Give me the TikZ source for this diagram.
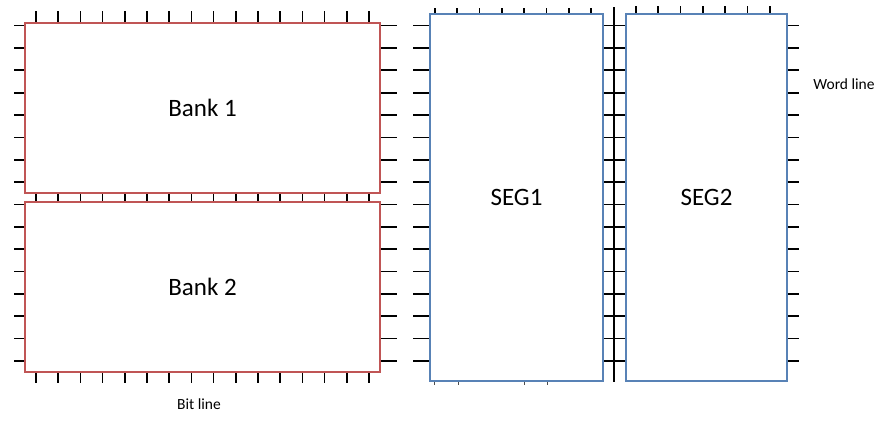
\documentclass[tikz,border=0pt]{standalone}
\usepackage{fontspec}
\setmainfont{Carlito}
\usepackage{tikz}
\definecolor{bankred}{RGB}{192,85,85}
\definecolor{segblue}{RGB}{88,130,182}
\tikzset{
	bankbox/.style={draw=bankred, line width=1.8pt, fill=white, minimum width=355pt, minimum height=170pt, inner sep=0pt, font=\fontsize{25}{30}\selectfont},
	segbox/.style={draw=segblue, line width=1.8pt, fill=white, minimum height=367pt, inner sep=0pt, font=\fontsize{25}{30}\selectfont},
	tick/.style={line width=1.7pt, color=black},
	lbl/.style={font=\fontsize{15.5}{18}\selectfont}
}

\begin{document}
\begin{tikzpicture}[x=1pt, y=-1pt]
		%%%%% START %%%%%
		\useasboundingbox (0, 0) rectangle (890, 432);
		
		% bit lines (vertical ticks)
		\foreach \k in {0,...,15}
		{
			\draw[tick] ({36+22.2*\k}, 11) -- ({36+22.2*\k}, 23);
			\draw[tick] ({36+22.2*\k}, 193) -- ({36+22.2*\k}, 201);
			\draw[tick] ({36+22.2*\k}, 373) -- ({36+22.2*\k}, 383);
		}
		\foreach \k in {0,...,7}
			\draw[tick] ({435+22.3*\k}, 8) -- ({435+22.3*\k}, 14);
		\foreach \k in {0,...,6}
			\draw[tick] ({636+22.3*\k}, 6) -- ({636+22.3*\k}, 14);
		\foreach \x in {434,458,524,547}
			\draw[line width=0.8pt, color=black!70] (\x, 381) -- (\x, 385);
		
		% word lines (horizontal ticks)
		\foreach \k in {0,...,15}
		{
			\draw[tick] (14, {25.6+22.35*\k}) -- (25, {25.6+22.35*\k});
			\draw[tick] (380, {25.6+22.35*\k}) -- (397, {25.6+22.35*\k});
			\draw[tick] (413, {25.6+22.35*\k}) -- (430, {25.6+22.35*\k});
			\draw[tick] (603, {25.6+22.35*\k}) -- (626, {25.6+22.35*\k});
			\draw[tick] (787, {25.6+22.35*\k}) -- (799, {25.6+22.35*\k});
		}
		\draw[tick] (614, 7) -- (614, 382);
		
		% banks
		\node[bankbox] (bank1) at (202.5, 108) {Bank 1};
		\node[bankbox] (bank2) at (202.5, 287) {Bank 2};
		
		% segments
		\node[segbox, minimum width=173pt] (seg1) at (516.5, 197.5) {SEG1};
		\node[segbox, minimum width=161pt] (seg2) at (706.5, 197.5) {SEG2};
		
		\node[lbl] (bitline) at (199, 404) {Bit line};
		\node[lbl] (wordline) at (844, 84) {Word line};
		
		%%%%% END %%%%%
	\end{tikzpicture}
\end{document}
